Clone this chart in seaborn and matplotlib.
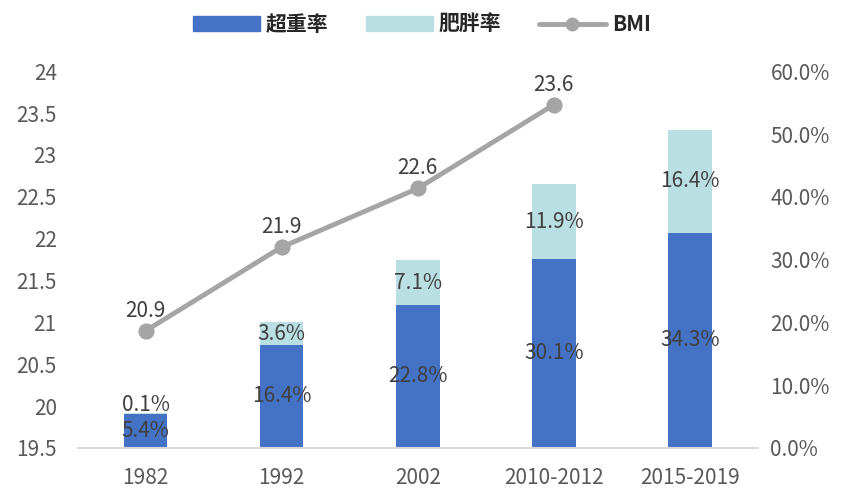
import matplotlib
matplotlib.use("Agg")
import matplotlib.pyplot as plt
import seaborn as sns
import pandas as pd
from matplotlib.patches import Patch
from matplotlib.lines import Line2D

categories = ["1982", "1992", "2002", "2010-2012", "2015-2019"]
overweight = [5.4, 16.4, 22.8, 30.1, 34.3]
obesity = [0.1, 3.6, 7.1, 11.9, 16.4]
bmi_categories = ["1982", "1992", "2002", "2010-2012"]
bmi = [20.9, 21.9, 22.6, 23.6]
left_ticks = [19.5, 20, 20.5, 21, 21.5, 22, 22.5, 23, 23.5, 24]
right_ticks = [0, 10, 20, 30, 40, 50, 60]

sns.set_theme(style="white")
plt.rcParams['font.family'] = ['Noto Sans CJK SC', 'DejaVu Sans']

BLUE = "#4472C4"
LIGHT = "#B9DFE2"
GREY = "#A5A5A5"
TXT = "#404040"
TICK = "#595959"

fig = plt.figure(figsize=(8.44, 4.88), dpi=100)
ax = fig.add_axes([0.092, 0.082, 0.806, 0.772])
ax2 = ax.twinx()

df = pd.DataFrame({"cat": categories, "ow": overweight, "ob": obesity})
df["total"] = df["ow"] + df["ob"]

sns.barplot(data=df, x="cat", y="total", color=LIGHT, width=0.32, ax=ax2,
            saturation=1, order=categories, linewidth=0)
sns.barplot(data=df, x="cat", y="ow", color=BLUE, width=0.32, ax=ax2,
            saturation=1, order=categories, linewidth=0)

for i, (ow, ob) in enumerate(zip(overweight, obesity)):
    ax2.text(i, ow / 2, f"{ow:.1f}%", ha="center", va="center", fontsize=15, color=TXT)
    y_ob = ow + ob / 2
    if ob < 1:
        y_ob = ow + 1.4
    ax2.text(i, y_ob, f"{ob:.1f}%", ha="center", va="center", fontsize=15, color=TXT)

bdf = pd.DataFrame({"cat": bmi_categories, "bmi": bmi})
sns.pointplot(data=bdf, x="cat", y="bmi", order=bmi_categories, color=GREY, ax=ax,
              markers="o", markersize=9, linewidth=3.5)
for i, v in enumerate(bmi):
    ax.text(i, v + 0.24, f"{v:.1f}", ha="center", va="center", fontsize=15, color=TXT)

ax.set_zorder(ax2.get_zorder() + 1)
ax.patch.set_visible(False)

ax.set_ylim(19.5, 24)
ax.set_yticks(left_ticks)
ax.set_yticklabels([f"{t:g}" for t in left_ticks])
ax2.set_ylim(0, 60)
ax2.set_yticks(right_ticks)
ax2.set_yticklabels([f"{t:.1f}%" for t in right_ticks])
ax.set_xlim(-0.5, 4.5)
ax.set_xticks(range(len(categories)))
ax.set_xticklabels(categories)
ax2.set_xlim(-0.5, 4.5)

for a in (ax, ax2):
    a.set_xlabel("")
    a.set_ylabel("")
    a.tick_params(axis="both", length=0, labelsize=15, colors=TICK)
    for s in ["top", "left", "right"]:
        a.spines[s].set_visible(False)
    a.spines["bottom"].set_color("#D9D9D9")
    a.grid(False)
ax.tick_params(axis="y", pad=15)
ax2.tick_params(axis="y", pad=9)
ax.tick_params(axis="x", pad=14)

handles = [Patch(color=BLUE), Patch(color=LIGHT),
           Line2D([0], [0], color=GREY, lw=3.5, marker="o", markersize=9)]
labels = ["超重率", "肥胖率", "BMI"]
fig.legend(handles, labels, loc="upper center", bbox_to_anchor=(0.5, 1.01), ncol=3,
           frameon=False, prop={"size": 15, "weight": "bold"}, handlelength=3.2,
           columnspacing=1.8, handletextpad=0.3)

fig.savefig("out.png", dpi=100)
